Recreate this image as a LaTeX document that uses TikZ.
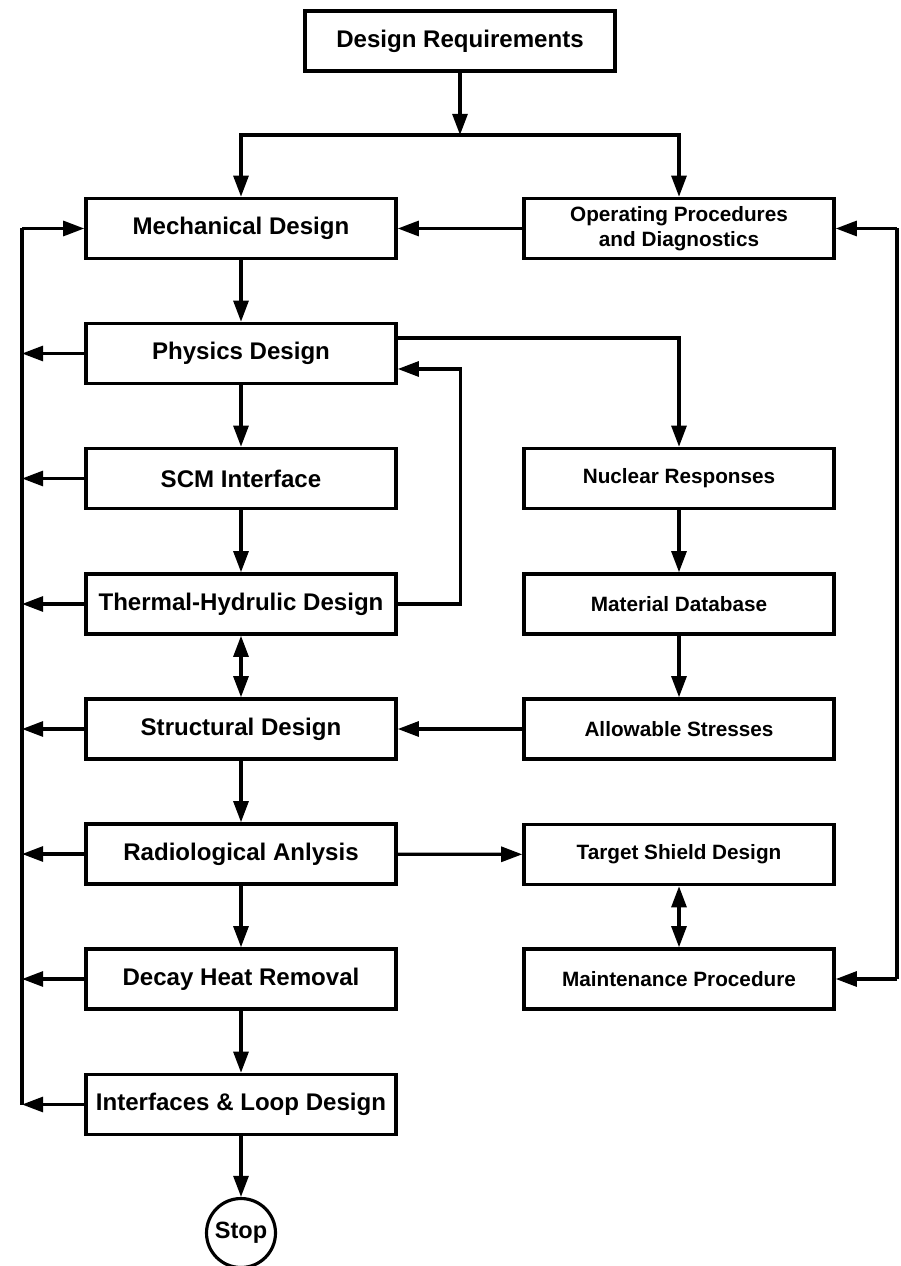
\documentclass[tikz,border=0pt]{standalone}
\usepackage{fontspec}
\setmainfont{Liberation Sans}
\usetikzlibrary{arrows.meta}

\begin{document}
\begin{tikzpicture}[
  x=0.02cm, y=-0.02cm,
  lbox/.style={rectangle, draw=black, line width=2pt, minimum width=6.2cm, minimum height=1.2cm, font=\bfseries\fontsize{13.7}{15}\selectfont},
  rbox/.style={rectangle, draw=black, line width=2pt, minimum width=6.2cm, minimum height=1.2cm, align=center, font=\bfseries\fontsize{11.8}{14.5}\selectfont},
  stopc/.style={circle, draw=black, line width=1.8pt, minimum size=1.38cm, inner sep=0pt, font=\bfseries\fontsize{13.4}{15}\selectfont},
  e/.style={line width=1.8pt, draw=black},
  a/.style={e, -{Triangle[length=12pt, width=8.5pt]}},
  aa/.style={e, {Triangle[length=12pt, width=8.5pt]}-{Triangle[length=12pt, width=8.5pt]}}
]
\useasboundingbox (0,0) rectangle (901,1266);

% --- Nodes (left column) ---
\node[lbox] (req)    at (460,41)    {Design Requirements};
\node[lbox] (mech)   at (241,228.5) {Mechanical Design};
\node[lbox] (phys)   at (241,353.5) {Physics Design};
\node[lbox] (scm)    at (241,478.5) {SCM Interface};
\node[lbox] (therm)  at (241,604)   {Thermal-Hydrulic Design};
\node[lbox] (struc)  at (241,729)   {Structural Design};
\node[lbox] (radio)  at (241,854)   {Radiological Anlysis};
\node[lbox] (decay)  at (241,979)   {Decay Heat Removal};
\node[lbox] (iface)  at (241,1104.5){Interfaces \& Loop Design};
\node[stopc] (stop)  at (241,1233)  {Stop};

% --- Nodes (right column) ---
\node[rbox] (oper)   at (679,228.5) {Operating Procedures\\and Diagnostics};
\node[rbox] (nucl)   at (679,478.5) {Nuclear Responses};
\node[rbox] (matl)   at (679,604)   {Material Database};
\node[rbox] (allow)  at (679,729)   {Allowable Stresses};
\node[rbox] (shield) at (679,854.5) {Target Shield Design};
\node[rbox] (maint)  at (679,979)   {Maintenance Procedure};

% --- Bus lines ---
\coordinate (j1) at (460,135);
\coordinate (lt) at (22,228.5);
\coordinate (lb) at (22,1104.5);
\coordinate (rt) at (897,228.5);
\coordinate (rb) at (897,979);

% --- Edges ---
\path[a] (req) -- (j1);
\path[a] (j1) -| (mech);
\path[a] (j1) -| (oper);
\path[a] (oper) -- (mech);
\path[a] (mech) -- (phys);
\path[a] (phys) -- (scm);
\path[a] (scm) -- (therm);
\path[aa] (therm) -- (struc);
\path[a] (struc) -- (radio);
\path[a] (radio) -- (decay);
\path[a] (decay) -- (iface);
\path[a] (iface) -- (stop);
\path[a] ([yshift=0.31cm]phys.east) -| (nucl);
\path[a] (therm.east) -- ++(63,0) |- ([yshift=-0.31cm]phys.east);
\path[a] (nucl) -- (matl);
\path[a] (matl) -- (allow);
\path[a] (allow) -- (struc);
\path[a] (radio) -- (shield);
\path[aa] (shield) -- (maint);

% left bus
\path[e] (lt) -- (lb);
\path[a] (lt) -- (mech);
\foreach \n in {phys,scm,therm,struc,radio,decay,iface}
  \path[a] (\n.west) -- (\n.west -| lt);

% right bus
\path[e] (rt) -- (rb);
\path[a] (rt) -- (oper);
\path[a] (rb) -- (maint);

\end{tikzpicture}
\end{document}
